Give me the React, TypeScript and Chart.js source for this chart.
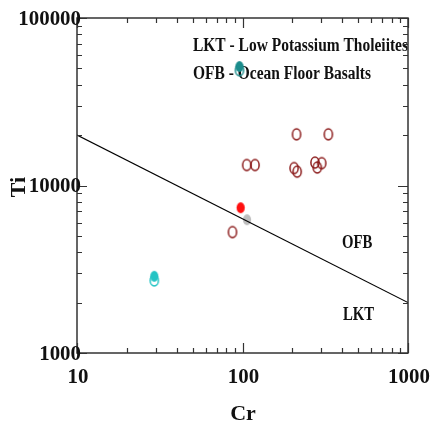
import React, { useEffect, useRef } from "react";
import { Chart, registerables } from "chart.js";

Chart.register(...registerables);

// ---- data ----
const sampleCr = [212, 330, 106, 119, 205, 214, 274, 283, 301, 87];
const sampleTi = [20200, 20200, 13250, 13250, 12700, 12100, 13700, 12800, 13600, 5270];
const redCr = [97.5];
const redTi = [7370];
const grayCr = [106.5];
const grayTi = [6250];
const cyanFilledCr = [29.3];
const cyanFilledTi = [2870];
const cyanOpenCr = [29.3];
const cyanOpenTi = [2710];
const tealFilledCr = [95.9];
const tealFilledTi = [51300];
const tealOpenCr = [95.9];
const tealOpenTi = [48800];
const boundaryCr = [10, 1000];
const boundaryTi = [20000, 2000];
const xTickLabels = [10, 100, 1000];
const yTickLabels = [1000, 10000, 100000];
const xTitle = "Cr";
const yTitle = "Ti";
const legendLines = ["LKT - Low Potassium Tholeiites", "OFB - Ocean Floor Basalts"];
const fieldLabels = ["OFB", "LKT"];

const pts = (xs: number[], ys: number[]) => xs.map((x, i) => ({ x, y: ys[i] }));

function ellipseMarker(color: string, filled: boolean) {
  const c = document.createElement("canvas");
  c.width = 12;
  c.height = 15;
  const g = c.getContext("2d")!;
  g.beginPath();
  g.ellipse(6, 7.5, 4.1, 5.4, 0, 0, Math.PI * 2);
  if (filled) {
    g.fillStyle = color;
    g.fill();
  } else {
    g.strokeStyle = color;
    g.lineWidth = 1.5;
    g.stroke();
  }
  return c;
}

const SERIF = '"Liberation Serif", "Times New Roman", serif';

function drawText(
  ctx: CanvasRenderingContext2D,
  text: string,
  x: number,
  y: number,
  font: string,
  align: CanvasTextAlign,
  baseline: CanvasTextBaseline,
  sx: number
) {
  ctx.save();
  ctx.font = font;
  ctx.textAlign = align;
  ctx.textBaseline = baseline;
  ctx.fillStyle = "#111";
  ctx.translate(x, y);
  ctx.scale(sx, 1);
  ctx.fillText(text, 0, 0);
  ctx.restore();
}

const framePlugin = {
  id: "frame",
  beforeDatasetsDraw(chart: any) {
    const ctx = chart.ctx as CanvasRenderingContext2D;
    const f = `bold 18px ${SERIF}`;
    drawText(ctx, legendLines[0], 193, 51, f, "left", "alphabetic", 0.86);
    drawText(ctx, legendLines[1], 193, 79, f, "left", "alphabetic", 0.86);
    drawText(ctx, fieldLabels[0], 342, 248, f, "left", "alphabetic", 0.82);
    drawText(ctx, fieldLabels[1], 343, 320, f, "left", "alphabetic", 0.82);
  },
  afterDraw(chart: any) {
    const ctx = chart.ctx as CanvasRenderingContext2D;
    const { left, right, top, bottom } = chart.chartArea;
    const xs = chart.scales.x;
    const ys = chart.scales.y;
    ctx.save();
    ctx.strokeStyle = "#333";
    ctx.lineWidth = 1.5;
    ctx.strokeRect(left, top, right - left, bottom - top);
    ctx.lineWidth = 1.2;
    ctx.beginPath();
    for (const d of [10, 100]) {
      for (let m = 1; m <= 10; m++) {
        const v = d * m;
        const px = Math.round(xs.getPixelForValue(v)) + 0.5;
        const len = m === 1 || m === 10 ? 10 : 5;
        ctx.moveTo(px, bottom);
        ctx.lineTo(px, bottom - len);
        ctx.moveTo(px, top);
        ctx.lineTo(px, top + len);
      }
    }
    for (const d of [1000, 10000]) {
      for (let m = 1; m <= 10; m++) {
        const v = d * m;
        const py = Math.round(ys.getPixelForValue(v)) + 0.5;
        const len = m === 1 || m === 10 ? 10 : 5;
        ctx.moveTo(left, py);
        ctx.lineTo(left + len, py);
        ctx.moveTo(right, py);
        ctx.lineTo(right - len, py);
      }
    }
    ctx.stroke();
    ctx.restore();

    const tf = `bold 22px ${SERIF}`;
    for (const v of xTickLabels) {
      drawText(ctx, String(v), xs.getPixelForValue(v) + 1, 383, tf, "center", "alphabetic", 0.95);
    }
    for (const v of yTickLabels) {
      drawText(ctx, String(v), 81, ys.getPixelForValue(v) + 1, tf, "right", "middle", 0.95);
    }
    drawText(ctx, xTitle, 243, 420, `bold 22px ${SERIF}`, "center", "alphabetic", 1);
    ctx.save();
    ctx.font = `bold 22px ${SERIF}`;
    ctx.fillStyle = "#111";
    ctx.textAlign = "center";
    ctx.textBaseline = "alphabetic";
    ctx.translate(25, 187);
    ctx.rotate(-Math.PI / 2);
    ctx.fillText(yTitle, 0, 0);
    ctx.restore();
  },
};

export default function App() {
  const ref = useRef<HTMLCanvasElement | null>(null);
  useEffect(() => {
    if (!ref.current) return;
    const brown = ellipseMarker("#8B1A1A", false);
    const red = ellipseMarker("#FF1010", true);
    const gray = ellipseMarker("#BEBEBE", true);
    const cyanF = ellipseMarker("#22C4C4", true);
    const cyanO = ellipseMarker("#22C4C4", false);
    const tealF = ellipseMarker("#1B8C8C", true);
    const tealO = ellipseMarker("#1B8C8C", false);
    const mk = (label: string, data: any[], style: any) => ({
      label,
      data,
      pointStyle: style,
      pointRadius: 5,
      showLine: false,
    });
    const chart = new Chart(ref.current, {
      type: "scatter",
      data: {
        datasets: [
          {
            label: "LKT/OFB boundary",
            type: "line",
            data: pts(boundaryCr, boundaryTi),
            borderColor: "#000",
            borderWidth: 1.2,
            pointRadius: 0,
            fill: false,
          } as any,
          mk("Samples", pts(sampleCr, sampleTi), brown),
          mk("Red", pts(redCr, redTi), red),
          mk("Gray", pts(grayCr, grayTi), gray),
          mk("Cyan filled", pts(cyanFilledCr, cyanFilledTi), cyanF),
          mk("Cyan open", pts(cyanOpenCr, cyanOpenTi), cyanO),
          mk("Teal filled", pts(tealFilledCr, tealFilledTi), tealF),
          mk("Teal open", pts(tealOpenCr, tealOpenTi), tealO),
        ],
      },
      options: {
        responsive: false,
        animation: false,
        layout: { padding: { left: 77, right: 27, top: 18, bottom: 75 } },
        plugins: { legend: { display: false }, tooltip: { enabled: false } },
        scales: {
          x: { type: "logarithmic", min: 10, max: 1000, display: false },
          y: { type: "logarithmic", min: 1000, max: 100000, display: false },
        },
      },
      plugins: [framePlugin],
    });
    return () => chart.destroy();
  }, []);
  return (
    <div style={{ position: "fixed", left: 0, top: 0, width: 435, height: 428, background: "#fff" }}>
      <canvas ref={ref} width={435} height={428} />
    </div>
  );
}
